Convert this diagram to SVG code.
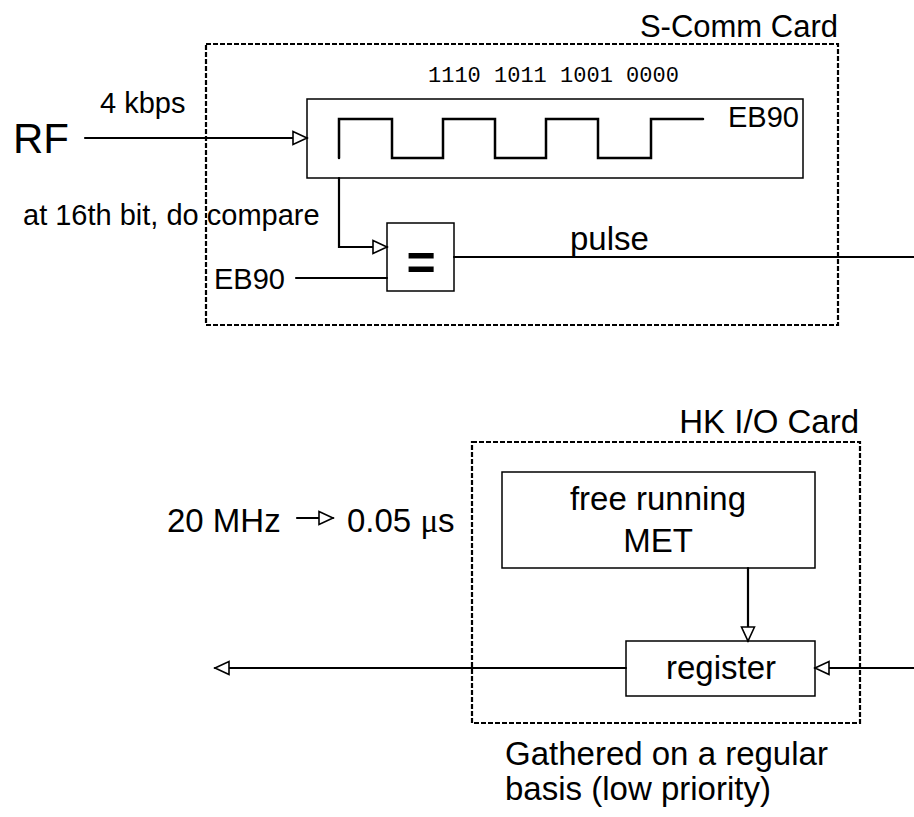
<svg xmlns="http://www.w3.org/2000/svg" width="914" height="817" viewBox="0 0 914 817">
<style>
text{font-family:"Liberation Sans",Arial,sans-serif;fill:#000}
.lbl{font-size:29px}
.big{font-size:33px}
.mono{font-family:"Liberation Mono","Courier New",monospace;font-size:22px}
.card{fill:none;stroke:#000;stroke-width:2.2;stroke-dasharray:5 2}
.box{fill:#fff;stroke:#000;stroke-width:1.5}
.wire{fill:none;stroke:#000;stroke-width:2.2;stroke-linecap:round}
.wave{fill:none;stroke:#000;stroke-width:2.5;stroke-linecap:round;stroke-linejoin:miter}
</style>
<defs>
<marker id="arr" markerUnits="userSpaceOnUse" markerWidth="18" markerHeight="18" refX="15" refY="8" orient="auto">
<path d="M1,1.5 L15,8 L1,14.5 Z" fill="#fff" stroke="#000" stroke-width="1.6"/>
</marker>
</defs>

<g id="scomm-card">
<rect class="card" x="206" y="44" width="632" height="281"/>
<text class="lbl" x="838" y="37" text-anchor="end" style="font-size:31px">S-Comm Card</text>
</g>

<g id="shift-register">
<rect class="box" x="307" y="99" width="496" height="79"/>
<path class="wave" d="M339,158 V119 H392 V158 H443 V119 H495 V158 H546 V119 H598 V158 H651 V119 H703"/>
<text class="mono" x="428" y="82">1110 1011 1001 0000</text>
<text class="lbl" x="728" y="127">EB90</text>
</g>

<g id="comparator">
<rect class="box" x="387" y="223" width="67" height="68"/>
<text x="421" y="280" text-anchor="middle" style="font-size:50px;font-weight:bold">=</text>
</g>

<g id="hk-card">
<rect class="card" x="472" y="442" width="388" height="281"/>
<text class="big" x="859" y="433" text-anchor="end">HK I/O Card</text>
</g>

<g id="met">
<rect class="box" x="502" y="472" width="313" height="96"/>
<text class="big" x="658" y="510" text-anchor="middle">free running</text>
<text class="big" x="658" y="552" text-anchor="middle">MET</text>
</g>

<g id="register">
<rect class="box" x="626" y="641" width="189" height="55"/>
<text class="big" x="721" y="679" text-anchor="middle">register</text>
</g>

<g id="labels">
<text x="13" y="153" style="font-size:42px">RF</text>
<text class="lbl" x="100" y="113">4 kbps</text>
<text class="lbl" x="23" y="225">at 16th bit, do compare</text>
<text class="lbl" x="214" y="289">EB90</text>
<text class="big" x="570" y="250">pulse</text>
<text class="big" x="167" y="532">20 MHz</text>
<text class="big" x="347" y="532">0.05 <tspan font-family="Liberation Serif, serif">μ</tspan>s</text>
<text class="big" x="505" y="765">Gathered on a regular</text>
<text class="big" x="505" y="800">basis (low priority)</text>
</g>

<g id="connectors">
<path class="wire" d="M85,138 H307" marker-end="url(#arr)"/>
<path class="wire" d="M339,178 V247 H387" marker-end="url(#arr)"/>
<path class="wire" d="M296,278 H387"/>
<path class="wire" d="M454,257 H914"/>
<path class="wire" d="M748,568 V641" marker-end="url(#arr)"/>
<path class="wire" d="M914,668 H815" marker-end="url(#arr)"/>
<path class="wire" d="M626,668 H215" marker-end="url(#arr)"/>
<path class="wire" d="M297,518 H333" marker-end="url(#arr)"/>
</g>
</svg>
